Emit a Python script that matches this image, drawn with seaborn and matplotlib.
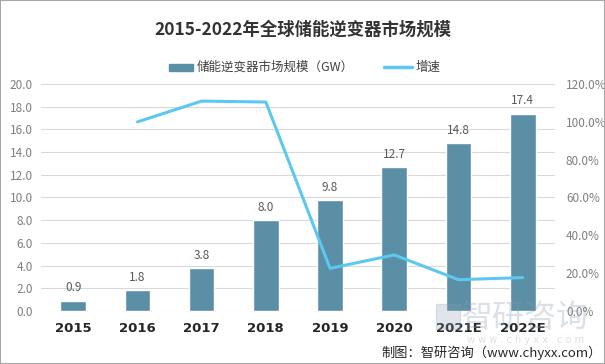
import numpy as np
import pandas as pd
import matplotlib
matplotlib.use("Agg")
import matplotlib.pyplot as plt
import seaborn as sns
from matplotlib.patches import Rectangle
from matplotlib.lines import Line2D

# data
years = ["2015", "2016", "2017", "2018", "2019", "2020", "2021E", "2022E"]
market_gw = [0.9, 1.8, 3.8, 8.0, 9.8, 12.7, 14.8, 17.4]
growth_pct = [np.nan, 100.0, 111.0, 110.5, 22.5, 29.6, 16.5, 17.6]

bar_color = "#5B8FA6"
line_color = "#5CC8F2"
tick_gray = "#7F7F7F"

sns.set_theme(style="white")
plt.rcParams["font.family"] = ["Noto Sans CJK SC", "DejaVu Sans"]
plt.rcParams["axes.unicode_minus"] = False

df = pd.DataFrame({"year": years, "gw": market_gw, "growth": growth_pct})

fig = plt.figure(figsize=(6.05, 3.64), dpi=100)
ax = fig.add_axes([0.068, 0.146, 0.849, 0.623])

sns.barplot(data=df, x="year", y="gw", color=bar_color, width=0.4,
            saturation=1, ax=ax, zorder=2)
ax.set_xlim(-0.5, 7.5)
ax.set_ylim(0, 20)
ax.set_yticks(np.arange(0, 20.1, 2))
ax.set_yticklabels([f"{v:.1f}" for v in np.arange(0, 20.1, 2)])
ax.yaxis.grid(True, color="#D9D9D9", linewidth=0.8, zorder=0)
ax.set_axisbelow(True)
for s in ax.spines.values():
    s.set_visible(False)
ax.set_xlabel("")
ax.set_ylabel("")
ax.tick_params(axis="y", colors=tick_gray, labelsize=8.5, length=0, pad=6)
ax.tick_params(axis="x", length=0, pad=8)
for lab in ax.get_xticklabels():
    lab.set_fontweight("bold")
    lab.set_fontsize(9.5)
    lab.set_color("#262626")
    lab.set_family(["DejaVu Sans"])

for i, v in enumerate(market_gw):
    ax.text(i, v + 0.55, f"{v:.1f}", ha="center", va="bottom",
            fontsize=8.5, color="#595959")

ax2 = ax.twinx()
sns.lineplot(x=np.arange(len(years)), y=df["growth"], color=line_color,
             linewidth=2.2, ax=ax2, zorder=3)
ax2.set_ylim(0, 120)
ax2.set_yticks(np.arange(0, 121, 20))
ax2.set_yticklabels([f"{v:.1f}%" for v in np.arange(0, 121, 20)])
ax2.set_ylabel("")
for s in ax2.spines.values():
    s.set_visible(False)
ax2.tick_params(axis="y", colors=tick_gray, labelsize=8.5, length=0, pad=8)

# title and legend
fig.text(0.5, 0.918, "2015-2022年全球储能逆变器市场规模", ha="center", va="center",
         fontsize=12.5, fontweight="bold", color="#333333")
fig.patches.append(Rectangle((169 / 605, 1 - 71 / 364), 24 / 605, 7 / 364,
                             transform=fig.transFigure, color=bar_color))
fig.text(197 / 605, 1 - 67 / 364, "储能逆变器市场规模（GW）", ha="left", va="center",
         fontsize=9, color="#404040")
fig.lines.append(Line2D([384 / 605, 412 / 605], [1 - 67 / 364, 1 - 67 / 364],
                        transform=fig.transFigure, color=line_color, linewidth=2.5))
fig.text(416 / 605, 1 - 67 / 364, "增速", ha="left", va="center",
         fontsize=9, color="#404040")

# watermark and source
fig.text(0.868, 0.126, "智研咨询", ha="center", va="center", fontsize=23,
         color="#8A9BB0", alpha=0.3)
fig.text(0.868, 0.066, "w w w . c h y x x . c o m", ha="center", va="center",
         fontsize=7, color="#8A9BB0", alpha=0.3, family=["DejaVu Sans"])
fig.patches.append(Rectangle((0.72, 0.095), 0.04, 0.07, transform=fig.transFigure,
                             color="#8A9BB0", alpha=0.25))
fig.text(0.995, 0.03, "制图：智研咨询（www.chyxx.com）", ha="right", va="center",
         fontsize=9.5, color="#262626")

fig.patches.append(Rectangle((0, 0), 1, 1, transform=fig.transFigure, fill=False,
                             edgecolor="#A6A6A6", linewidth=1.5))

fig.savefig("out.png", dpi=100)
